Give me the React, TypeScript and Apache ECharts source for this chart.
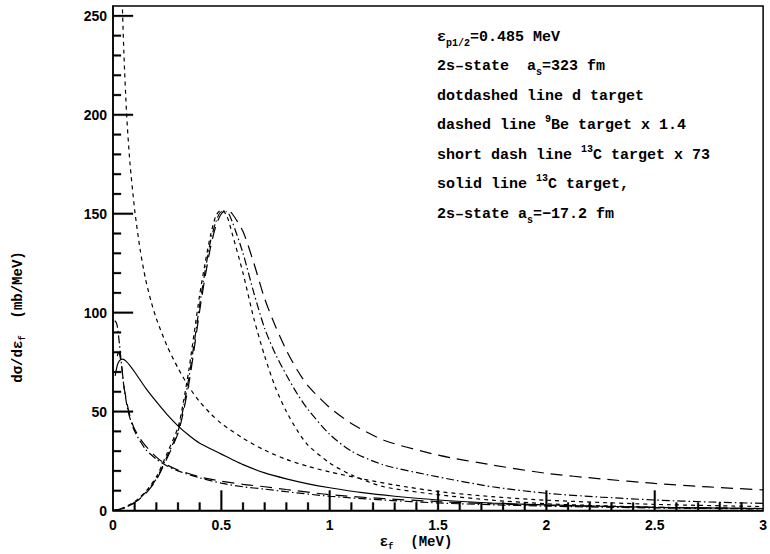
import React, { useEffect, useRef } from "react";
import * as echarts from "echarts";

// ---- data ----
const xPeak = [0, 0.025, 0.05, 0.1, 0.15, 0.2, 0.25, 0.3, 0.325, 0.35, 0.375, 0.4, 0.425, 0.45, 0.475, 0.5, 0.525, 0.55, 0.6, 0.65, 0.7, 0.75, 0.8, 0.85, 0.9, 1.0, 1.1, 1.25, 1.5, 1.75, 2.0, 2.25, 2.5, 2.75, 3.0];
const peakShortDash = [0, 0.5, 1.5, 4.5, 9.5, 17, 29, 42, 55, 71, 90, 109, 125, 139, 149, 152, 149, 140, 120, 97, 78, 62, 50, 40.5, 33, 24, 18, 12, 8, 5.2, 3.4, 2.4, 1.7, 1.2, 0.9];
const peakDotDash = [0, 0.4, 1.2, 4, 9, 16, 27.5, 40, 52, 67, 85, 104, 121, 136, 146, 151, 151, 146, 130, 110, 92, 79, 68.5, 59, 51, 38.5, 30, 23, 17, 12, 8.7, 6.8, 5.3, 4.3, 3.6];
const peakLongDash = [0, 0.4, 1.2, 4, 8.5, 15.5, 26.5, 39, 50, 64, 82, 101, 118, 133, 144, 150, 152, 150, 141, 125, 107, 93, 81, 71, 63, 52, 44, 35.5, 28, 23, 18.8, 16, 13.7, 11.9, 10.4];

const x2sShort = [0.03, 0.04, 0.05, 0.063, 0.078, 0.1, 0.125, 0.15, 0.175, 0.2, 0.25, 0.3, 0.35, 0.4, 0.45, 0.5, 0.6, 0.7, 0.8, 0.9, 1.0, 1.15, 1.3, 1.5, 1.75, 2.0, 2.5, 3.0];
const y2sShort = [330, 268, 232, 200, 176, 152, 132, 117, 106, 97, 83, 72, 62.5, 55, 49, 44, 36.5, 30.5, 25.8, 22.3, 19.5, 16, 12.9, 9.6, 7, 5.2, 3.1, 2.0];

const xSolid = [0.01, 0.02, 0.03, 0.045, 0.06, 0.08, 0.1, 0.15, 0.2, 0.25, 0.3, 0.35, 0.4, 0.5, 0.55, 0.6, 0.7, 0.8, 0.9, 1.0, 1.15, 1.3, 1.5, 1.75, 2.0, 2.5, 3.0];
const ySolid = [68, 73.5, 75.8, 76.5, 75.5, 73, 70, 62, 55, 48.5, 42.8, 38, 34, 28.5, 25.8, 23.2, 19, 16, 13.5, 11.5, 9, 7.2, 5.3, 3.8, 2.8, 1.6, 1.0];

const x2sDotDash = [0.008, 0.015, 0.02, 0.03, 0.04, 0.05, 0.07, 0.1, 0.15, 0.2, 0.25, 0.3, 0.4, 0.5, 0.6, 0.7, 0.8, 1.0, 1.25, 1.5, 1.75, 2.0, 2.5, 3.0];
const y2sDotDash = [96, 95, 93, 84, 73, 63, 50, 40, 31, 26, 22.5, 20, 16.5, 13.8, 12, 10.8, 9.5, 7.2, 5.3, 3.8, 2.9, 2.2, 1.3, 0.8];

const x2sLongDash = [0.02, 0.025, 0.03, 0.04, 0.05, 0.065, 0.08, 0.1, 0.14, 0.2, 0.25, 0.3, 0.4, 0.5, 0.6, 0.7, 0.8, 1.0, 1.25, 1.5, 1.75, 2.0, 2.5, 3.0];
const y2sLongDash = [78, 80, 79, 73, 63, 54, 47, 41, 34, 27, 23, 20.5, 17, 14.8, 13.2, 12, 10.6, 8, 6, 4.5, 3.4, 2.6, 1.6, 1.0];

// tick values
const xMajorTicks = [0.5, 1, 1.5, 2, 2.5];
const xMinorTicks = [0.1, 0.2, 0.3, 0.4, 0.6, 0.7, 0.8, 0.9, 1.1, 1.2, 1.3, 1.4, 1.6, 1.7, 1.8, 1.9, 2.1, 2.2, 2.3, 2.4, 2.6, 2.7, 2.8, 2.9];
const yMajorTicks = [50, 100, 150, 200, 250];
const yMinorTicks = [10, 20, 30, 40, 60, 70, 80, 90, 110, 120, 130, 140, 160, 170, 180, 190, 210, 220, 230, 240];
const xLabelInterval = 0.5;
const yLabelInterval = 50;
const xMax = 3;
const yMax = 255;

const zip = (xs: number[], ys: number[]) => xs.map((x, i) => [x, ys[i]]);

const SHORT = [4, 4];
const LONG = [12, 7];
const DOTDASH = [8, 3, 1.5, 3];

export default function App() {
  const ref = useRef<HTMLDivElement>(null);
  useEffect(() => {
    if (!ref.current) return;
    const chart = echarts.init(ref.current, undefined, { renderer: "svg" });
    const mono = "Liberation Mono";
    const base = { fontFamily: mono, fontSize: 15, fontWeight: "bold", fill: "#000", lineHeight: 22 };
    const sub = { fontFamily: mono, fontSize: 10, fontWeight: "bold", fill: "#000", lineHeight: 12, verticalAlign: "bottom" };
    const sup = { fontFamily: mono, fontSize: 10, fontWeight: "bold", fill: "#000", lineHeight: 12, verticalAlign: "top" };
    const rich = { t: base, s: sub, u: sup };
    const tBase = { fontFamily: mono, fontSize: 14, fontWeight: "bold", fill: "#000", lineHeight: 18 };
    const tSub = { fontFamily: mono, fontSize: 9, fontWeight: "bold", fill: "#000", lineHeight: 10, verticalAlign: "bottom" };
    const richTitle = { t: tBase, s: tSub };
    const legendLines = [
      "{t|ε}{s|p1/2}{t|=0.485 MeV}",
      "{t|2s–state  a}{s|s}{t|=323 fm}",
      "{t|dotdashed line d target}",
      "{t|dashed line }{u|9}{t|Be target x 1.4}",
      "{t|short dash line }{u|13}{t|C target x 73}",
      "{t|solid line }{u|13}{t|C target,}",
      "{t|2s–state a}{s|s}{t|=−17.2 fm}",
    ];
    const mk = (data: number[][], dash: any) => ({
      type: "line",
      data,
      showSymbol: false,
      smooth: 0.25,
      lineStyle: { color: "#000", width: 1.2, type: dash },
      clip: true,
      z: 2,
    });
    // ticks drawn as thin filled rectangles positioned through the axis scales
    const tickSeries = (vals: number[], vertical: boolean, len: number) => ({
      type: "custom",
      silent: true,
      clip: false,
      z: 5,
      data: vals.map((v) => (vertical ? [v, 0] : [0, v])),
      encode: { x: 0, y: 1 },
      renderItem: (_params: any, api: any) => {
        const p = api.coord([api.value(0), api.value(1)]);
        const w = 1.8;
        return {
          type: "rect",
          shape: vertical
            ? { x: p[0] - w / 2, y: p[1] - len, width: w, height: len }
            : { x: p[0], y: p[1] - w / 2, width: len, height: w },
          style: { fill: "#000", stroke: "#000", lineWidth: 0.3 },
        };
      },
    });
    const axisLabelStyle = { fontFamily: "Liberation Sans", fontSize: 14, fontWeight: "bold", color: "#000" };
    chart.setOption({
      animation: false,
      backgroundColor: "#fff",
      grid: { left: 113, right: 2, top: 6, bottom: 43.5, show: true, borderColor: "#000", borderWidth: 1.5, backgroundColor: "transparent" },
      xAxis: {
        type: "value", min: 0, max: xMax, interval: xLabelInterval,
        axisLine: { show: true, lineStyle: { color: "#000", width: 1.5 } },
        axisTick: { show: false },
        axisLabel: { ...axisLabelStyle, margin: 7 },
        splitLine: { show: false },
      },
      yAxis: {
        type: "value", min: 0, max: yMax, interval: yLabelInterval,
        axisLine: { show: true, lineStyle: { color: "#000", width: 1.5 } },
        axisTick: { show: false },
        axisLabel: { ...axisLabelStyle, margin: 6, formatter: (v: number) => (v % 50 === 0 ? String(v) : "") },
        splitLine: { show: false },
      },
      series: [
        mk(zip(xPeak, peakShortDash), SHORT),
        mk(zip(xPeak, peakDotDash), DOTDASH),
        mk(zip(xPeak, peakLongDash), LONG),
        mk(zip(x2sShort, y2sShort), SHORT),
        mk(zip(xSolid, ySolid), "solid"),
        mk(zip(x2sDotDash, y2sDotDash), DOTDASH),
        mk(zip(x2sLongDash, y2sLongDash), LONG),
        tickSeries(xMajorTicks, true, 20),
        tickSeries(xMinorTicks, true, 8),
        tickSeries(yMajorTicks, false, 20),
        tickSeries(yMinorTicks, false, 8),
      ],
      graphic: [
        ...legendLines.map((txt, i) => ({
          type: "text",
          x: 437,
          y: 37 + i * 29.5,
          style: { text: txt, rich, align: "left", verticalAlign: "middle" },
        })),
        {
          type: "text",
          x: 416,
          y: 542,
          style: { text: "{t|ε}{s|f}{t|  (MeV)}", rich: richTitle, align: "center", verticalAlign: "middle" },
        },
        {
          type: "text",
          x: 18,
          y: 317,
          rotation: Math.PI / 2,
          style: { text: "{t|dσ/dε}{s|f}{t|  (mb/MeV)}", rich: richTitle, align: "center", verticalAlign: "middle" },
        },
      ],
    });
    return () => chart.dispose();
  }, []);
  return <div ref={ref} style={{ position: "absolute", left: 0, top: 0, width: 770, height: 554 }} />;
}
